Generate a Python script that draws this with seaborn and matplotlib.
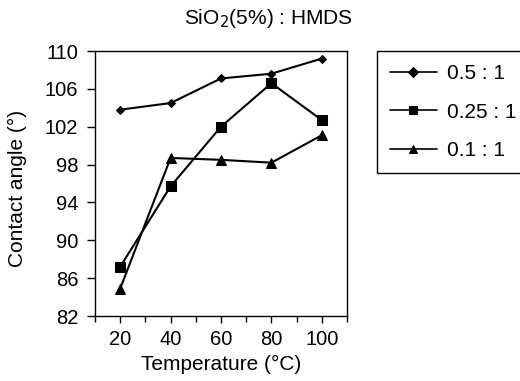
import matplotlib
matplotlib.use("Agg")
import matplotlib.pyplot as plt
import seaborn as sns
import pandas as pd

temperature = [20, 40, 60, 80, 100]
ratio_05 = [103.8, 104.5, 107.1, 107.6, 109.2]
ratio_025 = [87.2, 95.7, 102.0, 106.6, 102.7]
ratio_01 = [84.9, 98.7, 98.5, 98.2, 101.1]
series_names = ["0.5 : 1", "0.25 : 1", "0.1 : 1"]
x_ticks = [20, 40, 60, 80, 100]
y_ticks = [82, 86, 90, 94, 98, 102, 106, 110]

df = pd.DataFrame({
    "Temperature": temperature * 3,
    "Angle": ratio_05 + ratio_025 + ratio_01,
    "Ratio": [series_names[0]] * 5 + [series_names[1]] * 5 + [series_names[2]] * 5,
})

sns.set_style("white")
plt.rcParams["font.family"] = ["Liberation Sans", "DejaVu Sans"]
plt.rcParams["text.color"] = "black"
plt.rcParams["axes.labelcolor"] = "black"
plt.rcParams["xtick.color"] = "black"
plt.rcParams["ytick.color"] = "black"

fig = plt.figure(figsize=(5.2, 3.81), dpi=100)
ax = fig.add_axes([95 / 520, 1 - 316 / 381, (347 - 95) / 520, (316 - 51) / 381])

markers = {series_names[0]: "D", series_names[1]: "s", series_names[2]: "^"}
sizes_m = {series_names[0]: 4.5, series_names[1]: 7.5, series_names[2]: 7}
for name in series_names:
    sub = df[df["Ratio"] == name]
    sns.lineplot(data=sub, x="Temperature", y="Angle", ax=ax, color="black",
                 marker=markers[name], markersize=sizes_m[name], linewidth=1.5,
                 markeredgecolor="black", markerfacecolor="black", label=name)

ax.set_xlim(10, 110)
ax.set_ylim(82, 110)
ax.set_xticks(x_ticks)
ax.set_xticks([10, 30, 50, 70, 90, 110], minor=True)
ax.set_yticks(y_ticks)
ax.tick_params(axis="x", which="major", direction="out", length=5, width=1,
               labelsize=14.5, pad=5, bottom=True)
ax.tick_params(axis="x", which="minor", direction="out", length=4.5, width=1,
               bottom=True)
ax.tick_params(axis="y", which="major", direction="out", length=6, width=1,
               labelsize=14.5, pad=6, left=True)
for sp in ax.spines.values():
    sp.set_color("black")
    sp.set_linewidth(1)

ax.set_xlabel("Temperature (°C)", fontsize=15)
ax.set_ylabel("Contact angle (°)", fontsize=15)
ax.xaxis.set_label_coords(0.5, -0.147)
ax.yaxis.set_label_coords(-0.27, 0.48)
fig.text(268 / 520, 1 - 18 / 381, "SiO$_2$(5%) : HMDS", ha="center", va="center", fontsize=15)

leg = ax.legend(loc="upper left", bbox_to_anchor=(377 / 520, 1 - 51 / 381),
                bbox_transform=fig.transFigure, frameon=True, fancybox=False,
                fontsize=15, handlelength=2.26, handletextpad=0.5,
                labelspacing=0.95, borderpad=0.62, borderaxespad=0)
leg.get_frame().set_edgecolor("black")
leg.get_frame().set_linewidth(1)
leg.get_frame().set_alpha(None)
for h in leg.legend_handles:
    h.set_markersize(5.5)
    h.set_linewidth(1.2)

fig.savefig("out.png", dpi=100)
